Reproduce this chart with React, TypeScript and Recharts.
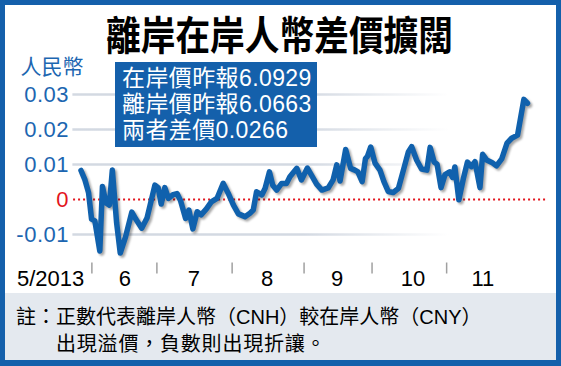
import React from "react";
import { LineChart, Line, XAxis, YAxis, ReferenceLine } from "recharts";

// CNH - CNY spread (x = trading-day index from late May 2013)
const dayIdx = [
  0.3, 1.5, 2.6, 3.5, 4.5, 6.0, 6.8, 7.9, 8.9, 9.8, 11.1, 12.2, 13.8, 15.7, 16.9, 18.7, 20.3,
  22.7, 23.7, 24.6, 25.7, 26.8, 28.2, 29.4, 30.5, 32.0, 33.0, 34.2, 35.5, 36.7, 38.3, 39.8,
  41.5, 43.4, 44.9, 46.5, 48.0, 50.0, 51.5, 52.5, 53.5, 55.1, 56.1, 57.4, 58.4, 59.6, 61.1,
  62.6, 63.6, 65.7, 67.1, 68.9, 71.7, 73.3, 75.2, 76.7, 77.8, 78.8, 80.5, 82.0, 83.3, 84.2,
  85.5, 86.5, 87.1, 88.1, 89.4, 90.9, 92.1, 93.4, 94.9, 96.5, 98.0, 99.5, 100.5, 102.0, 103.5,
  105.1, 106.1, 107.3, 108.2, 109.4, 110.6, 112.0, 112.9, 113.6, 114.8, 116.2, 117.4, 118.6,
  119.7, 121.2, 122.0, 123.2, 124.8, 126.2, 127.8, 129.4, 130.8, 132.6, 134.5, 135.6,
];
const spread = [
  0.0083, 0.0056, 0.0019, -0.0056, -0.0061, -0.0147, 0.0037, -0.001, -0.0016, 0.0084, -0.0067,
  -0.0153, -0.0107, -0.0036, -0.0056, -0.0082, -0.0053, 0.0041, 0.0033, -0.0013, 0.0034, 0.0003,
  0.0014, 0.0017, -0.0004, -0.0054, -0.003, -0.0084, -0.0035, -0.0044, -0.0027, -0.0007, 0.0003,
  0.0046, 0.0018, -0.0016, -0.0041, -0.0049, -0.0039, -0.003, 0.0022, 0.0013, 0.0032, 0.0079,
  0.0041, 0.0027, 0.0046, 0.0046, 0.0065, 0.0089, 0.0056, 0.009, 0.0044, 0.0027, 0.0033, 0.0056,
  0.0099, 0.0053, 0.0143, 0.0089, 0.0084, 0.0079, 0.0051, 0.0117, 0.0123, 0.015, 0.0104, 0.0084,
  0.0051, 0.0023, 0.002, 0.0032, 0.0084, 0.0136, 0.0151, 0.0113, 0.0087, 0.0084, 0.0149, 0.0107,
  0.0101, 0.0034, 0.0071, 0.0079, 0.0063, 0.0093, -0.0001, 0.0061, 0.0107, 0.0094, 0.0108,
  0.0034, 0.0129, 0.0113, 0.0106, 0.0096, 0.0116, 0.0161, 0.0175, 0.0184, 0.0286, 0.0275,
];

const monthStarts = [3.6, 23.3, 46.1, 67.9, 88.5, 111.1];
const monthLabelPos = [-8.9, 13.6, 34.5, 56.7, 77.9, 100.9, 122.1];
const monthLabels = ["5/2013", "6", "7", "8", "9", "10", "11"];
const yTicks = [-0.01, 0, 0.01, 0.02, 0.03];
const gridValues = [-0.01, 0.01, 0.02, 0.03];

const title = "離岸在岸人幣差價擴闊";
const unitLabel = "人民幣";
const infoLines = ["在岸價昨報6.0929", "離岸價昨報6.0663", "兩者差價0.0266"];
const noteLines = ["註：正數代表離岸人幣（CNH）較在岸人幣（CNY）", "出現溢價，負數則出現折讓。"];

const data = dayIdx.map((d, i) => ({ d, v: spread[i] }));

const FRAME = "#1460ab";
const LINE = "#1061ad";
const AXIS_BLUE = "#1c66b1";
const RED = "#e3141c";
const FONT = "Liberation Sans, Noto Sans CJK TC, sans-serif";

function YTick({ y, payload }: any) {
  const zero = payload.value === 0;
  return (
    <text
      x={69}
      y={y}
      dy="0.36em"
      textAnchor="end"
      fontSize={22}
      fontFamily={FONT}
      letterSpacing={0.5}
      fill={zero ? RED : AXIS_BLUE}
    >
      {zero ? "0" : payload.value.toFixed(2)}
    </text>
  );
}

export default function App() {
  return (
    <div style={{ position: "absolute", left: 0, top: 0, width: 561, height: 366, background: FRAME }}>
      <style>{`.spread-line .recharts-line-curve { filter: drop-shadow(2px 2px 1px rgba(0,0,0,0.35)); }`}</style>
      <svg width={0} height={0} style={{ position: "absolute" }}>
        <defs>
          <linearGradient id="gridFade" gradientUnits="userSpaceOnUse" x1={0} y1={0} x2={561} y2={0}>
            <stop offset="0.128" stopColor="#d3d9e2" stopOpacity={0} />
            <stop offset="0.130" stopColor="#d3d9e2" stopOpacity={1} />
            <stop offset="0.54" stopColor="#d3d9e2" stopOpacity={1} />
            <stop offset="0.8" stopColor="#d3d9e2" stopOpacity={0} />
          </linearGradient>
        </defs>
      </svg>
      <div style={{ position: "absolute", left: 5, top: 5, width: 551, height: 355, background: "#fff" }} />
      <div style={{ position: "absolute", left: 5, top: 293, width: 551, height: 67, background: "#e4e9ef" }} />
      <div className="spread-line" style={{ position: "absolute", left: 0, top: 0 }}>
        <LineChart
          width={561}
          height={366}
          data={data}
          margin={{ top: 94.5, right: 14.05, left: 19.6, bottom: 71.5 }}
        >
          <XAxis
            dataKey="d"
            type="number"
            domain={[-18, 141.5]}
            ticks={monthStarts}
            interval={0}
            height={2}
            axisLine={false}
            tickSize={11}
            tickLine={{ stroke: "#a0a0a0", strokeWidth: 1.5 }}
            tick={() => <g />}
          />
          <XAxis
            xAxisId="lbl"
            dataKey="d"
            type="number"
            domain={[-18, 141.5]}
            ticks={monthLabelPos}
            interval={0}
            height={30}
            axisLine={false}
            tickLine={false}
            tickSize={0}
            tickMargin={6}
            tickFormatter={(_v: number, i: number) => monthLabels[i]}
            tick={{ fontSize: 22, fill: "#000", fontFamily: FONT }}
          />
          <YAxis
            type="number"
            domain={[-0.018, 0.03]}
            ticks={yTicks}
            interval={0}
            width={1}
            axisLine={false}
            tickLine={false}
            tick={<YTick />}
          />
          {gridValues.map((g) => (
            <ReferenceLine key={g} y={g} stroke="url(#gridFade)" strokeWidth={2.5} />
          ))}
          <ReferenceLine
            segment={[{ x: -2.1, y: 0 }, { x: 141.5, y: 0 }]}
            stroke={RED}
            strokeWidth={2}
            strokeDasharray="2 3"
          />
          <Line
            type="linear"
            dataKey="v"
            stroke={LINE}
            strokeWidth={5.5}
            strokeLinejoin="round"
            strokeLinecap="round"
            dot={false}
            activeDot={false}
            isAnimationActive={false}
          />
        </LineChart>
      </div>
      <svg width={561} height={366} style={{ position: "absolute", left: 0, top: 0 }}>
        <text x={106} y={49.5} fontSize={40} fontWeight={700} fill="#000" fontFamily={FONT} textLength={347} lengthAdjust="spacingAndGlyphs">
          {title}
        </text>
        <text x={20.5} y={73.5} fontSize={21} fill={AXIS_BLUE} fontFamily={FONT}>
          {unitLabel}
        </text>
        <rect x={115} y={62} width={202} height={85} fill={FRAME} />
        {infoLines.map((t, i) => (
          <text key={t} x={122} y={86 + i * 26} fontSize={23} fill="#fff" fontFamily={FONT} letterSpacing={0.4}>
            {t}
          </text>
        ))}
        <text x={16} y={324} fontSize={20} fill="#000" fontFamily={FONT}>
          {noteLines[0]}
        </text>
        <text x={56} y={351} fontSize={20} fill="#000" fontFamily={FONT} letterSpacing={0.8}>
          {noteLines[1]}
        </text>
      </svg>
    </div>
  );
}
